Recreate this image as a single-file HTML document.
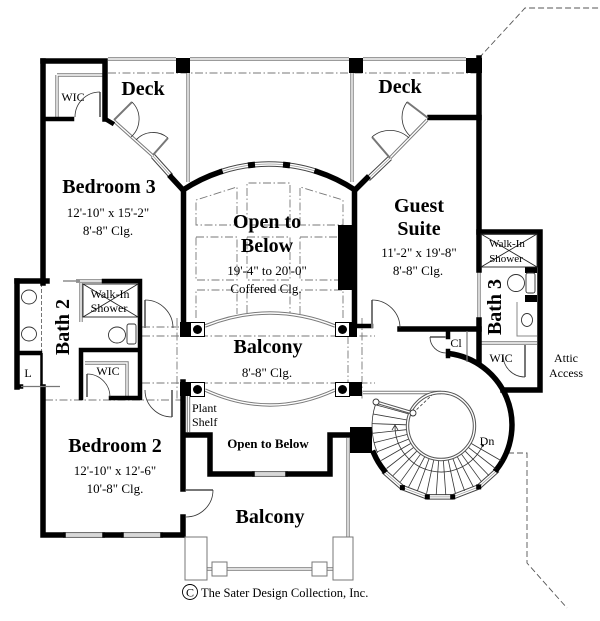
<!DOCTYPE html>
<html><head><meta charset="utf-8">
<style>
html,body{margin:0;padding:0;background:#fff;}
svg{display:block}
text{font-family:"Liberation Serif",serif;fill:#000}
.t{font-weight:bold;font-size:20px}
.d{font-size:13px}
.s{font-size:12px}
</style></head><body>
<svg width="600" height="621" viewBox="0 0 600 621" xmlns="http://www.w3.org/2000/svg">
<defs>
 <path id="rails" d="M108,59 H176 M190,59 H349 M363,59 H466 M188,73 V182 M352,73 V182 M188.5,395 V432 M348,438 V537 M207,569 H333 M363,392.5 H441 M57,75 H104 M57,75 V117 M85,363 H127 V396 M481,343 H537 M479,270 V320 M81,283 V322 M76,281 H102 M205,326 Q270,300 335,326 M205,390 Q270,420 335,390 M114,121 L153,156 M427,120 L390,158"/>
 <path id="wins" d="M220,172 A155,155 0 0 1 317,171.6 M497.5,470 L478.7,486.9 L452.7,496.9 L427.3,496.9 L402.4,487.6 L383.3,470.9 M63,535 H105 M121,535 H163 M252,474 H288 M153,156 L171,176 M390,158 L368,179"/>
</defs>
<rect width="600" height="621" fill="#fff"/>

<!-- dash-dot lines -->
<g fill="none" stroke="#777" stroke-width="0.9" stroke-dasharray="8,2.5,1.5,2.5">
 <path d="M108,73 H476"/>
 <path d="M142,327 H182 M45,400 H182 M142,336 H375 M142,383 H375 M177,318 V400 M362,318 V400 M348,336 V383"/>
 <path d="M196,225 V200 L237,187 V225 Z M247,225 V183 H290 V225 Z M300,225 V187 L343,200 V225 Z"/>
 <path d="M196,237 H237 V280 H196 Z M247,237 H290 V280 H247 Z M300,237 H343 V280 H300 Z"/>
 <path d="M196,318 V290 H237 V314 M247,313 V290 H290 V313 M300,314 V290 H343 V318"/>
</g>
<g fill="none" stroke="#666" stroke-width="0.9" stroke-dasharray="4,2">
 <path d="M41.5,283 V352"/>
</g>

<!-- outside dashed -->
<g fill="none" stroke="#555" stroke-width="0.9" stroke-dasharray="6,3">
 <path d="M479,58 L525,8 H600"/>
 <path d="M508,453 H527 V563 L567,608"/>
</g>

<!-- rails (double gray lines) -->
<use href="#rails" fill="none" stroke="#7a7a7a" stroke-width="3.4"/>
<use href="#rails" fill="none" stroke="#fff" stroke-width="1.4"/>

<!-- windows -->
<use href="#wins" fill="none" stroke="#444" stroke-width="5.5"/>
<use href="#wins" fill="none" stroke="#fff" stroke-width="3.5"/>
<use href="#wins" fill="none" stroke="#999" stroke-width="0.7"/>

<!-- walls -->
<g fill="none" stroke="#000" stroke-width="5.5" stroke-linecap="square" stroke-linejoin="miter">
 <path d="M43,61 H105 V119"/>
 <path d="M43,61 V283"/>
 <path d="M17,281 H47"/>
 <path d="M17,281 V387"/>
 <path d="M43,387 V535 M43,535 H63 M105,535 H121 M163,535 H183 V517"/>
 <path d="M183,489 V382"/>
 <path d="M183.5,190 V322"/>
 <path d="M171,177 L183,190"/>
 <path d="M367,178 L355,190 M354.5,190 V322"/>
 <path d="M479,58 V232 H540 V390 H503"/>
 <path d="M430,117.5 H479"/>
 <path d="M479,232 V270 M479,320 V363"/>
 <path d="M400,329 H479"/>
 <path d="M183,190 A155,155 0 0 1 220,172 M317,171.6 A155,155 0 0 1 355,190"/>
 <path d="M448.8,353.5 A72,72 0 0 1 496.7,469.3"/>
 <path d="M384,470.3 A72,72 0 0 1 373.7,453.1"/>
 <path d="M187,435 H210 V474 H252 M288,474 H330 V435 H352"/>
</g>
<g fill="none" stroke="#000" stroke-width="4.5" stroke-linecap="square">
 <path d="M43,119 H72"/>
 <path d="M104,281 H140 V398 M81,350 H140 M81,350 V398 M111,398 H140"/>
 <path d="M17,353 H40"/>
 <path d="M17,386.5 H21"/>
 <path d="M107,120 L112,123"/>
 <path d="M358,326 H371"/>
 <path d="M448,331 V337 M448,351 V356"/>
 <path d="M248,165.4 A155,155 0 0 1 255,164.6 M283,164.6 A155,155 0 0 1 290,165.4" stroke-width="6" stroke-linecap="butt"/>
</g>
<path d="M41.5,353 V387" stroke="#000" stroke-width="2.5"/>
<path d="M21,386.5 H60 M63,281 H80 M467,331 V362" stroke="#777" stroke-width="1.2"/>

<!-- pillars / blocks -->
<g fill="#000">
 <rect x="176" y="58" width="14" height="15"/>
 <rect x="349" y="58" width="14" height="15"/>
 <rect x="466" y="58" width="16" height="15"/>
 <rect x="180" y="322" width="10" height="15"/>
 <rect x="349" y="322" width="8" height="15"/>
 <rect x="180" y="382" width="10" height="14"/>
 <rect x="349" y="382" width="13" height="14"/>
 <rect x="338" y="225" width="16" height="65"/>
 <rect x="350" y="427" width="22" height="26"/>
 <rect x="525" y="267" width="12" height="6"/>
 <rect x="525" y="295" width="12" height="7"/>
 <rect x="476.2" y="484.4" width="5" height="5"/>
 <rect x="450.2" y="494.4" width="5" height="5"/>
 <rect x="424.8" y="494.4" width="5" height="5"/>
 <rect x="399.9" y="485.1" width="5" height="5"/>
</g>
<g fill="#fff" stroke="#000" stroke-width="1">
 <rect x="190.5" y="322.5" width="14" height="14"/>
 <rect x="335.5" y="322.5" width="14" height="14"/>
 <rect x="190.5" y="382.5" width="14" height="14"/>
 <rect x="335.5" y="382.5" width="14" height="14"/>
</g>
<g fill="#000">
 <circle cx="197.5" cy="329.5" r="4.5"/>
 <circle cx="342.5" cy="329.5" r="4.5"/>
 <circle cx="197.5" cy="389.5" r="4.5"/>
 <circle cx="342.5" cy="389.5" r="4.5"/>
</g>

<!-- lower balcony piers -->
<g fill="#fff" stroke="#777" stroke-width="1">
 <rect x="185" y="537" width="22" height="43"/>
 <rect x="333" y="537" width="20" height="43"/>
 <rect x="212" y="562" width="15" height="14"/>
 <rect x="312" y="562" width="15" height="14"/>
</g>

<!-- door leaves (gray) -->
<g fill="none" stroke="#777" stroke-width="2">
 <path d="M100,92 V117"/>
 <path d="M114,120 L132,102 M153,155 L168,138"/>
 <path d="M428,118 L407,102 M390,158 L372,137"/>
 <path d="M145,300 V328 M172,390 V417"/>
 <path d="M87,374 V397"/>
 <path d="M186,490 H213"/>
 <path d="M372,300 V328"/>
 <path d="M446,337 H430"/>
 <path d="M525,345 V377"/>
</g>
<!-- door arcs -->
<g fill="none" stroke="#333" stroke-width="0.8">
 <path d="M75,117 A25,25 0 0 1 100,92"/>
 <path d="M132,102 A24,24 0 0 1 131,137"/>
 <path d="M168,138 A23,23 0 0 0 136,140"/>
 <path d="M407,102 A26,26 0 0 0 410,136"/>
 <path d="M372,137 A27.6,27.6 0 0 1 409,138"/>
 <path d="M145,300 A28,28 0 0 1 173,328"/>
 <path d="M145,390 A27,27 0 0 0 172,417"/>
 <path d="M87,374 A23,23 0 0 1 110,397"/>
 <path d="M213,490 A27,27 0 0 1 186,517"/>
 <path d="M372,300 A28,28 0 0 1 400,328"/>
 <path d="M430,337 A16,16 0 0 0 446,353"/>
 <path d="M503,355 A22,22 0 0 0 525,377"/>
</g>

<!-- showers -->
<g fill="none" stroke="#222" stroke-width="0.9">
 <rect x="83" y="284" width="55" height="33"/>
 <path d="M83,284 L138,317 M138,284 L83,317"/>
 <rect x="481" y="234" width="56" height="33"/>
 <path d="M481,234 L537,267 M537,234 L481,267"/>
</g>
<g fill="none" stroke="#333" stroke-width="0.9">
 <ellipse cx="29" cy="297" rx="7.5" ry="7"/>
 <ellipse cx="29" cy="334" rx="7.5" ry="7"/>
 <ellipse cx="117" cy="335" rx="8.5" ry="8"/>
 <rect x="127" y="324" width="9" height="20" rx="2"/>
 <ellipse cx="516" cy="283" rx="8.5" ry="8.5"/>
 <rect x="526" y="273" width="9" height="20" rx="2"/>
 <ellipse cx="527" cy="320" rx="5.5" ry="6.5"/>
</g>
<path d="M517,302 V336 H537" fill="none" stroke="#888" stroke-width="1"/>

<!-- stair -->
<g fill="none" stroke="#333" stroke-width="0.8">
 <path d="M471.3,443.5 L500.8,460.5 M468.6,447.6 L495.4,468.5 M465.3,451.2 L489,475.6 M461.6,454.3 L481.6,481.8 M457.4,456.9 L473.4,486.9 M453,458.9 L464.6,490.9 M448.3,460.2 L455.4,493.5 M443.4,460.9 L445.8,494.9 M438.6,460.9 L436.2,494.9 M433.7,460.2 L426.6,493.5 M429,458.9 L417.4,490.9 M424.6,456.9 L408.6,486.9 M420.4,454.3 L400.4,481.8 M416.7,451.2 L393,475.6 M413.4,447.6 L386.6,468.5 M410.7,443.5 L381.2,460.5 M408.6,439.1 L377,451.9 M407,434.5 L374.1,442.7 M406.2,429.7 L372.3,433.3 M406,424.8 L372.1,423.6 M406.5,419.9 L373,414 M409,414 L375.4,404.7"/>
 <path d="M395,426 A46,46 0 0 0 482.7,445.4"/>
 <path d="M375.4,404.7 A69,69 0 0 0 377.5,453"/>
 <path d="M413,413 L432,395" stroke-dasharray="3,2"/>
</g>
<circle cx="441" cy="426" r="33.5" fill="none" stroke="#555" stroke-width="3.4"/>
<circle cx="441" cy="426" r="33.5" fill="none" stroke="#fff" stroke-width="1.4"/>
<path d="M376,402 L413,413" stroke="#555" stroke-width="3.4"/>
<path d="M376,402 L413,413" stroke="#fff" stroke-width="1.4"/>
<circle cx="376" cy="402" r="3" fill="#fff" stroke="#333" stroke-width="0.9"/>
<circle cx="413" cy="413" r="3" fill="#fff" stroke="#333" stroke-width="0.9"/>
<path d="M392,430 L395,425 L398,430" fill="none" stroke="#333" stroke-width="0.8"/>
<circle cx="482.7" cy="445.4" r="1.3" fill="#000"/>

<!-- copyright -->
<circle cx="190" cy="592" r="7.5" fill="none" stroke="#000" stroke-width="0.9"/>
<text x="190" y="596.5" class="s" text-anchor="middle">C</text>
<text x="201" y="597" font-size="12.5">The Sater Design Collection, Inc.</text>

<!-- labels -->
<g text-anchor="middle">
 <text x="73" y="101" class="s">WIC</text>
 <text x="143" y="95" class="t">Deck</text>
 <text x="400" y="93" class="t">Deck</text>
 <text x="109" y="193" class="t">Bedroom 3</text>
 <text x="108" y="217" class="d">12'-10" x 15'-2"</text>
 <text x="108" y="235" class="d">8'-8" Clg.</text>
 <text x="267" y="228" class="t">Open to</text>
 <text x="267" y="252" class="t">Below</text>
 <text x="267" y="275" class="d">19'-4" to 20'-0"</text>
 <text x="266" y="293" class="d">Coffered Clg.</text>
 <text x="419" y="212" class="t">Guest</text>
 <text x="419" y="235" class="t">Suite</text>
 <text x="419" y="257" class="d">11'-2" x 19'-8"</text>
 <text x="418" y="275" class="d">8'-8" Clg.</text>
 <text x="507" y="247" font-size="11">Walk-In</text>
 <text x="506" y="262" font-size="11">Shower</text>
 <text class="t" transform="translate(501,307) rotate(-90)">Bath 3</text>
 <text x="456" y="347" class="s">Cl</text>
 <text x="501" y="362" class="s">WIC</text>
 <text x="566" y="362" class="s">Attic</text>
 <text x="566" y="377" class="s">Access</text>
 <text class="t" transform="translate(69,327) rotate(-90)">Bath 2</text>
 <text x="110" y="298" class="s">Walk-In</text>
 <text x="109" y="312" class="s">Shower</text>
 <text x="108" y="375" class="s">WIC</text>
 <text x="28" y="377" class="s">L</text>
 <text x="268" y="353" class="t">Balcony</text>
 <text x="267" y="377" class="d">8'-8" Clg.</text>
 <text x="268" y="448" font-size="13" font-weight="bold">Open to Below</text>
 <text x="115" y="452" class="t">Bedroom 2</text>
 <text x="115" y="475" class="d">12'-10" x 12'-6"</text>
 <text x="115" y="493" class="d">10'-8" Clg.</text>
 <text x="270" y="523" class="t">Balcony</text>
 <text x="487" y="445" class="s">Dn</text>
</g>
<text x="192" y="412" class="s">Plant</text>
<text x="192" y="426" class="s">Shelf</text>
</svg>
</body></html>
